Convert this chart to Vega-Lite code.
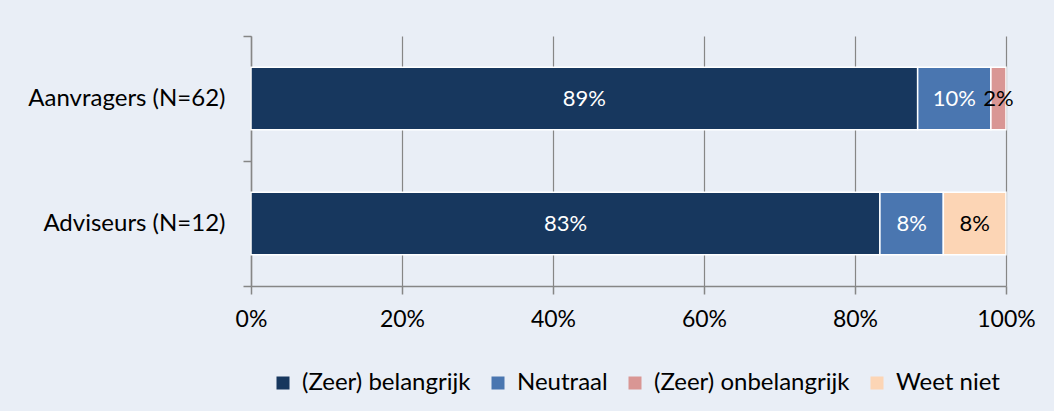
{
  "$schema": "https://vega.github.io/schema/vega-lite/v6.json",
  "autosize": "none",
  "width": 755,
  "height": 250,
  "padding": {"left": 251, "top": 36, "right": 48, "bottom": 125},
  "background": "#E9EEF6",
  "config": {
    "view": {"stroke": null},
    "font": "Lato",
    "axis": {"labelFont": "Lato", "labelColor": "#000000", "labelFontSize": 23, "domainColor": "#868686", "tickColor": "#868686", "gridColor": "#868686", "domainWidth": 1.5, "tickWidth": 1.5, "gridWidth": 1.2, "title": null, "labelLimit": 0}
  },
  "data": {
    "values": [
      {"group": "Aanvragers (N=62)", "cat": "(Zeer) belangrijk", "idx": 1, "value": 88.3, "label": "89%"},
      {"group": "Aanvragers (N=62)", "cat": "Neutraal", "idx": 2, "value": 9.7, "label": "10%"},
      {"group": "Aanvragers (N=62)", "cat": "(Zeer) onbelangrijk", "idx": 3, "value": 2.0, "label": "2%"},
      {"group": "Adviseurs (N=12)", "cat": "(Zeer) belangrijk", "idx": 1, "value": 83.3, "label": "83%"},
      {"group": "Adviseurs (N=12)", "cat": "Neutraal", "idx": 2, "value": 8.4, "label": "8%"},
      {"group": "Adviseurs (N=12)", "cat": "Weet niet", "idx": 4, "value": 8.3, "label": "8%"}
    ]
  },
  "encoding": {
    "y": {
      "field": "group", "type": "nominal", "sort": ["Aanvragers (N=62)", "Adviseurs (N=12)"],
      "scale": {"paddingInner": 0, "paddingOuter": 0},
      "axis": {"tickBand": "extent", "tickSize": 8, "labelPadding": 18, "labelFontSize": 24, "domain": true, "grid": false}
    }
  },
  "layer": [
    {
      "mark": {"type": "bar", "stroke": "#FFFFFF", "strokeWidth": 1.5, "height": {"band": 0.5}},
      "encoding": {
        "x": {
          "field": "value", "type": "quantitative", "stack": "zero",
          "scale": {"domain": [0, 100], "nice": false},
          "axis": {"values": [0, 20, 40, 60, 80, 100], "labelExpr": "datum.value + '%'", "grid": true, "tickSize": 8, "labelPadding": 14, "labelFlush": false, "domain": true}
        },
        "color": {
          "field": "cat", "type": "nominal",
          "scale": {"domain": ["(Zeer) belangrijk", "Neutraal", "(Zeer) onbelangrijk", "Weet niet"], "range": ["#17375E", "#4A76B0", "#D99694", "#FCD5B5"]},
          "legend": {
            "title": null, "orient": "none", "direction": "horizontal", "legendX": 20, "legendY": 335,
            "symbolType": "square", "symbolSize": 169, "symbolStrokeWidth": 0, "labelFontSize": 24, "labelFont": "Lato", "labelColor": "#000000", "labelOffset": 7, "columnPadding": 15, "labelLimit": 0
          }
        },
        "order": {"field": "idx", "type": "quantitative"}
      }
    },
    {
      "mark": {"type": "text", "fontSize": 22, "font": "Lato", "baseline": "middle", "align": "center"},
      "encoding": {
        "x": {"field": "value", "type": "quantitative", "stack": "zero", "bandPosition": 0.5},
        "detail": {"field": "cat", "type": "nominal"},
        "order": {"field": "idx", "type": "quantitative"},
        "text": {"field": "label", "type": "nominal"},
        "color": {"condition": {"test": "datum.idx <= 2", "value": "#FFFFFF"}, "value": "#000000"}
      }
    }
  ]
}
